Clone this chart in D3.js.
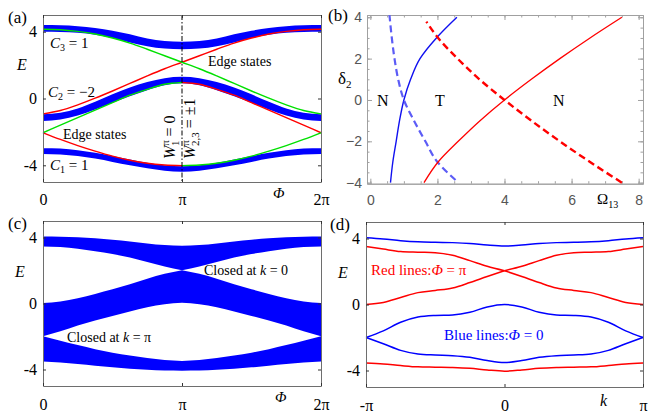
<!DOCTYPE html>
<html>
<head>
<meta charset="utf-8">
<script src="https://cdn.jsdelivr.net/npm/d3@7"></script>
<style>
  body { margin: 0; background: #fff; }
  svg text { font-family: "Liberation Serif", "Times New Roman", serif; }
  svg text.mma { font-family: "Liberation Sans", Arial, sans-serif; }
</style>
</head>
<body>
<svg id="fig" width="651" height="416"></svg>
<script>
/** Data (Phi and k in units of pi) **/
var phiAll   = [0, 0.125, 0.25, 0.375, 0.5, 0.625, 0.75, 0.875, 1, 1.125, 1.25, 1.375, 1.5, 1.625, 1.75, 1.875, 2];
var phiLeft  = [0, 0.125, 0.25, 0.375, 0.5, 0.625, 0.75, 0.875, 1];
var phiRight = [1, 1.125, 1.25, 1.375, 1.5, 1.625, 1.75, 1.875, 2];

// (a) bulk ribbons of the strip spectrum
var bandA3Lo = [4.0, 3.98, 3.93, 3.82, 3.62, 3.36, 3.13, 2.99, 2.95, 2.99, 3.13, 3.36, 3.62, 3.82, 3.93, 3.98, 4.0];
var bandA3Hi = [4.4, 4.38, 4.33, 4.22, 4.06, 3.84, 3.59, 3.44, 3.4, 3.44, 3.59, 3.84, 4.06, 4.22, 4.33, 4.38, 4.4];
var bandA2Lo = [-1.35, -1.26, -1.02, -0.66, -0.25, 0.14, 0.5, 0.8, 0.92, 0.8, 0.5, 0.14, -0.25, -0.66, -1.02, -1.26, -1.35];
var bandA2Hi = [-0.95, -0.86, -0.6, -0.2, 0.25, 0.66, 0.99, 1.22, 1.3, 1.22, 0.99, 0.66, 0.25, -0.2, -0.6, -0.86, -0.95];
var bandA1Lo = [-3.32, -3.35, -3.45, -3.6, -3.8, -4.0, -4.18, -4.32, -4.38, -4.32, -4.18, -4.0, -3.8, -3.6, -3.45, -3.35, -3.32];
var bandA1Hi = [-2.98, -3.0, -3.1, -3.25, -3.45, -3.65, -3.84, -3.99, -4.05, -3.99, -3.84, -3.65, -3.45, -3.25, -3.1, -3.0, -2.98];

// (a) edge states
var redA1   = [-2.05, -2.45, -2.82, -3.15, -3.45, -3.7, -3.88, -3.98, -4.02];
var redA2   = [-0.92, -0.72, -0.38, 0.02, 0.45, 0.9, 1.35, 1.78, 2.17, 2.56, 2.95, 3.32, 3.62, 3.86, 4.02, 4.12, 4.15];
var redA3   = [0.96, 0.85, 0.55, 0.2, -0.25, -0.7, -1.15, -1.6, -2.05];
var greenA1 = [4.15, 4.12, 4.02, 3.86, 3.62, 3.32, 2.95, 2.56, 2.17, 1.78, 1.35, 0.9, 0.45, 0.02, -0.38, -0.72, -0.92];
var greenA2 = [-2.05, -1.6, -1.15, -0.7, -0.25, 0.2, 0.55, 0.85, 0.96];
var greenA3 = [-4.02, -3.98, -3.88, -3.7, -3.45, -3.15, -2.82, -2.45, -2.05];

// (b) phase boundaries, delta_2 vs Omega_13
var blueSolidDe   = [-4, -3, -2, -1, 0, 1, 2, 3, 4];
var blueSolidOm   = [0.6, 0.67, 0.77, 0.87, 1.0, 1.2, 1.48, 1.97, 2.58];
var blueDashDe    = [-3.87, -3, -2, -1, 0, 1, 2, 3, 4.1];
var blueDashOm    = [2.54, 2.0, 1.64, 1.3, 1.0, 0.83, 0.72, 0.64, 0.57];
var redSolidDe    = [-4, -3, -2, -1, 0, 1, 2, 3, 4];
var redSolidOm    = [1.6, 2.02, 2.62, 3.27, 4.0, 4.8, 5.65, 6.55, 7.5];
var redDashDe     = [-4, -3, -2, -1, 0, 1, 2, 3, 3.79];
var redDashOm     = [7.5, 6.55, 5.65, 4.8, 4.0, 3.25, 2.6, 2.02, 1.67];

// (c) projected bulk bands (edges)
var bandC3Hi = [4.06, 4.05, 4.02, 3.96, 3.87, 3.76, 3.64, 3.54, 3.5, 3.54, 3.64, 3.76, 3.87, 3.96, 4.02, 4.05, 4.06];
var bandC3Lo = [3.46, 3.42, 3.32, 3.17, 3.0, 2.79, 2.52, 2.24, 2.02, 2.24, 2.52, 2.79, 3.0, 3.17, 3.32, 3.42, 3.46];
var bandC2Hi = [0.03, 0.12, 0.32, 0.58, 0.86, 1.17, 1.5, 1.8, 2.02, 1.8, 1.5, 1.17, 0.86, 0.58, 0.32, 0.12, 0.03];
var bandC2Lo = [-1.98, -1.68, -1.33, -1.03, -0.75, -0.48, -0.22, -0.04, 0.04, -0.04, -0.22, -0.48, -0.75, -1.03, -1.33, -1.68, -1.98];
var bandC1Hi = [-1.98, -2.25, -2.52, -2.77, -2.98, -3.15, -3.3, -3.42, -3.48, -3.42, -3.3, -3.15, -2.98, -2.77, -2.52, -2.25, -1.98];
var bandC1Lo = [-3.52, -3.58, -3.67, -3.77, -3.87, -3.95, -4.02, -4.06, -4.07, -4.06, -4.02, -3.95, -3.87, -3.77, -3.67, -3.58, -3.52];

// (d) bulk bands vs k
var kAll = [-1, -0.875, -0.75, -0.625, -0.5, -0.375, -0.25, -0.125, 0, 0.125, 0.25, 0.375, 0.5, 0.625, 0.75, 0.875, 1];
var blueTopD = [4.04, 3.97, 3.87, 3.8, 3.77, 3.75, 3.7, 3.6, 3.54, 3.6, 3.7, 3.75, 3.77, 3.8, 3.87, 3.97, 4.04];
var blueMidD = [-2.0, -1.6, -1.08, -0.76, -0.66, -0.63, -0.47, -0.15, 0.0, -0.15, -0.47, -0.63, -0.66, -0.76, -1.08, -1.6, -2.0];
var blueBotD = [-2.0, -2.38, -2.78, -3.0, -3.06, -3.1, -3.2, -3.4, -3.52, -3.4, -3.2, -3.1, -3.06, -3.0, -2.78, -2.38, -2.0];
var redTopD  = [3.52, 3.36, 3.21, 3.17, 3.14, 2.98, 2.66, 2.32, 2.05, 2.32, 2.66, 2.98, 3.14, 3.17, 3.21, 3.36, 3.52];
var redMidD  = [0.0, 0.12, 0.42, 0.72, 0.85, 1.0, 1.33, 1.7, 2.05, 1.7, 1.33, 1.0, 0.85, 0.72, 0.42, 0.12, 0.0];
var redBotD  = [-3.54, -3.6, -3.7, -3.78, -3.8, -3.82, -3.87, -3.97, -4.04, -3.97, -3.87, -3.82, -3.8, -3.78, -3.7, -3.6, -3.54];

var BLUE = "#0000ff", RED = "#ff0000", GREEN = "#00e000";
var svg = d3.select("#fig");

function zip(xs, ys) { return xs.map(function(x, i) { return [x, ys[i]]; }); }
function zip3(xs, lo, hi) { return xs.map(function(x, i) { return [x, lo[i], hi[i]]; }); }

/** MATLAB-like box with inward ticks */
function matlabAxes(x, y, xTicks, xLabels, yTicks, yLabels, labelY) {
    var g = svg.append("g");
    var r = x.range(), d = y.range();
    var fmtY = function(v) { return yLabels[yTicks.indexOf(v)]; };
    var left = d3.axisLeft(y).tickValues(yTicks).tickFormat(fmtY).tickSizeInner(-3).tickSizeOuter(0).tickPadding(6);
    var right = d3.axisRight(y).tickValues(yTicks).tickFormat("").tickSizeInner(-3).tickSizeOuter(0);
    var top = d3.axisTop(x).tickValues(xTicks).tickFormat("").tickSizeInner(-3).tickSizeOuter(0);
    var bottom = d3.axisBottom(x).tickValues(xTicks).tickFormat(function(v) { return xLabels[xTicks.indexOf(v)]; })
        .tickSizeInner(-3).tickSizeOuter(0).tickPadding(labelY);
    g.append("g").attr("transform", "translate(" + r[0] + ",0)").call(left);
    g.append("g").attr("transform", "translate(" + r[1] + ",0)").call(right);
    g.append("g").attr("transform", "translate(0," + d[1] + ")").call(top);
    g.append("g").attr("transform", "translate(0," + d[0] + ")").call(bottom);
    g.selectAll("path.domain").attr("stroke", "#6e6e6e").attr("stroke-width", 1);
    g.selectAll(".tick line").attr("stroke", "#333");
    g.selectAll("text").attr("font-family", "Liberation Serif").attr("font-size", 16).attr("fill", "#000");
    return g;
}

function addText(x, y, parts, opts) {
    opts = opts || {};
    var t = svg.append("text").attr("x", x).attr("y", y)
        .attr("font-size", opts.size || 14).attr("fill", opts.fill || "#000");
    if (opts.rotate) t.attr("transform", "rotate(" + opts.rotate + "," + x + "," + y + ")");
    parts.forEach(function(p) {
        var s = t.append("tspan").text(p.t);
        if (p.i) s.attr("font-style", "italic");
        if (p.s) s.attr("font-size", p.s);
        if (p.dx) s.attr("dx", p.dx);
        if (p.dy) s.attr("dy", p.dy);
    });
    return t;
}

/* ---------------- (a) ---------------- */
var xA = d3.scaleLinear().domain([0, 2]).range([43, 321]);
var yA = d3.scaleLinear().domain([-5, 5]).range([182, 15]);
var areaA = d3.area().x(function(d) { return xA(d[0]); })
    .y0(function(d) { return yA(d[1]); }).y1(function(d) { return yA(d[2]); })
    .curve(d3.curveMonotoneX);
var lineA = d3.line().x(function(d) { return xA(d[0]); }).y(function(d) { return yA(d[1]); })
    .curve(d3.curveMonotoneX);

[[bandA3Lo, bandA3Hi], [bandA2Lo, bandA2Hi], [bandA1Lo, bandA1Hi]].forEach(function(b) {
    svg.append("path").attr("d", areaA(zip3(phiAll, b[0], b[1]))).attr("fill", BLUE);
});
[[phiLeft, redA1, RED], [phiAll, redA2, RED], [phiRight, redA3, RED],
 [phiAll, greenA1, GREEN], [phiLeft, greenA2, GREEN], [phiRight, greenA3, GREEN]].forEach(function(l) {
    svg.append("path").attr("d", lineA(zip(l[0], l[1])))
        .attr("fill", "none").attr("stroke", l[2]).attr("stroke-width", 1.4);
});
svg.append("line").attr("x1", xA(1)).attr("x2", xA(1)).attr("y1", yA(5)).attr("y2", yA(-5))
    .attr("stroke", "#000").attr("stroke-width", 1).attr("stroke-dasharray", "5,2,1.5,2");

matlabAxes(xA, yA, [0, 1, 2], ["0", "π", "2π"], [4, 0, -4], ["4", "0", "-4"], 12);

addText(8, 23, [{t: "(a)"}], {size: 17});
addText(17, 70, [{t: "E", i: true}], {size: 16});
addText(273, 198, [{t: "Φ", i: true}], {size: 15});
addText(50, 48, [{t: "C", i: true}, {t: "3", s: 10, dy: 3}, {t: " = 1", dy: -3}], {size: 15});
addText(48, 97, [{t: "C", i: true}, {t: "2", s: 10, dy: 3}, {t: " = −2", dy: -3}], {size: 15});
addText(50, 170, [{t: "C", i: true}, {t: "1", s: 10, dy: 3}, {t: " = 1", dy: -3}], {size: 15});
addText(208, 66, [{t: "Edge states"}], {size: 14});
addText(63, 139, [{t: "Edge states"}], {size: 14});
addText(175, 159, [{t: "W", i: true}, {t: "π", s: 11, dy: -6}, {t: "1", s: 11, dx: -6, dy: 10}, {t: " = 0", dy: -4}],
    {size: 16, rotate: -90});
addText(195, 159, [{t: "W", i: true}, {t: "π", s: 11, dy: -6}, {t: "2,3", s: 11, dx: -6, dy: 10}, {t: " = ±1", dy: -4}],
    {size: 16, rotate: -90});

/* ---------------- (b) ---------------- */
var xB = d3.scaleLinear().domain([-0.1, 8.13]).range([367, 643]);
var yB = d3.scaleLinear().domain([-4.05, 4.11]).range([183.7, 15]);
var lineB = d3.line().x(function(d) { return xB(d[0]); }).y(function(d) { return yB(d[1]); })
    .curve(d3.curveMonotoneY);

var gB = svg.append("g");
var fmtB = function(v) { return v < 0 ? "−" + Math.abs(v) : String(v); };
gB.append("g").attr("transform", "translate(367,0)")
    .call(d3.axisLeft(yB).tickValues([-4, -2, 0, 2, 4]).tickFormat(fmtB).tickSizeInner(-5).tickSizeOuter(0).tickPadding(5));
gB.append("g").attr("transform", "translate(367,0)")
    .call(d3.axisLeft(yB).tickValues(d3.range(-4, 4.01, 0.5)).tickFormat("").tickSizeInner(-2.5).tickSizeOuter(0));
gB.append("g").attr("transform", "translate(643,0)")
    .call(d3.axisRight(yB).tickValues([-4, -2, 0, 2, 4]).tickFormat("").tickSizeInner(-5).tickSizeOuter(0));
gB.append("g").attr("transform", "translate(643,0)")
    .call(d3.axisRight(yB).tickValues(d3.range(-4, 4.01, 0.5)).tickFormat("").tickSizeInner(-2.5).tickSizeOuter(0));
gB.append("g").attr("transform", "translate(0,183.7)")
    .call(d3.axisBottom(xB).tickValues([0, 2, 4, 6, 8]).tickFormat(fmtB).tickSizeInner(-5).tickSizeOuter(0).tickPadding(11));
gB.append("g").attr("transform", "translate(0,183.7)")
    .call(d3.axisBottom(xB).tickValues(d3.range(0, 8.01, 0.5)).tickFormat("").tickSizeInner(-2.5).tickSizeOuter(0));
gB.append("g").attr("transform", "translate(0,15)")
    .call(d3.axisTop(xB).tickValues([0, 2, 4, 6, 8]).tickFormat("").tickSizeInner(-5).tickSizeOuter(0));
gB.append("g").attr("transform", "translate(0,15)")
    .call(d3.axisTop(xB).tickValues(d3.range(0, 8.01, 0.5)).tickFormat("").tickSizeInner(-2.5).tickSizeOuter(0));
gB.selectAll("path.domain").attr("stroke", "#a0a0a0");
gB.selectAll(".tick line").attr("stroke", "#a0a0a0");
gB.selectAll("text").attr("class", "mma").attr("font-size", 14).attr("fill", "#555");

svg.append("path").attr("d", lineB(zip(blueSolidOm, blueSolidDe))).attr("fill", "none")
    .attr("stroke", "#1010f0").attr("stroke-width", 1.4);
svg.append("path").attr("d", lineB(zip(blueDashOm, blueDashDe))).attr("fill", "none")
    .attr("stroke", "#5c5cf6").attr("stroke-width", 2.2).attr("stroke-dasharray", "7,4");
svg.append("path").attr("d", lineB(zip(redSolidOm, redSolidDe))).attr("fill", "none")
    .attr("stroke", RED).attr("stroke-width", 1.3);
svg.append("path").attr("d", lineB(zip(redDashOm, redDashDe))).attr("fill", "none")
    .attr("stroke", RED).attr("stroke-width", 2.4).attr("stroke-dasharray", "7,4");

addText(328, 21, [{t: "(b)"}], {size: 17});
addText(338, 84, [{t: "δ"}, {t: "2", s: 11, dy: 4}], {size: 17});
addText(377, 106, [{t: "N"}], {size: 16});
addText(435, 106, [{t: "T"}], {size: 16});
addText(553, 106, [{t: "N"}], {size: 16});
addText(597, 204, [{t: "Ω"}, {t: "13", s: 10, dy: 4}], {size: 15});

/* ---------------- (c) ---------------- */
var xC = d3.scaleLinear().domain([0, 2]).range([43, 321]);
var yC = d3.scaleLinear().domain([-5, 5]).range([386, 221]);
var areaC = d3.area().x(function(d) { return xC(d[0]); })
    .y0(function(d) { return yC(d[1]); }).y1(function(d) { return yC(d[2]); })
    .curve(d3.curveMonotoneX);

[[bandC3Lo, bandC3Hi], [bandC2Lo, bandC2Hi], [bandC1Lo, bandC1Hi]].forEach(function(b) {
    // split at Phi = pi so the gap closings keep their sharp corners
    svg.append("path").attr("d", areaC(zip3(phiLeft, b[0].slice(0, 9), b[1].slice(0, 9)))).attr("fill", BLUE);
    svg.append("path").attr("d", areaC(zip3(phiRight, b[0].slice(8), b[1].slice(8)))).attr("fill", BLUE);
});

matlabAxes(xC, yC, [0, 1, 2], ["0", "π", "2π"], [4, 0, -4], ["4", "0", "-4"], 13);
addText(8, 229, [{t: "(c)"}], {size: 17});
addText(15, 277, [{t: "E", i: true}], {size: 16});
addText(275, 402, [{t: "Φ", i: true}], {size: 15});
addText(204, 275, [{t: "Closed at  "}, {t: "k", i: true}, {t: " = 0"}], {size: 14});
addText(67, 342, [{t: "Closed at  "}, {t: "k", i: true}, {t: " = π"}], {size: 14});

/* ---------------- (d) ---------------- */
var xD = d3.scaleLinear().domain([-1, 1]).range([366, 643]);
var yD = d3.scaleLinear().domain([-5, 5]).range([387, 222]);
var lineD = d3.line().x(function(d) { return xD(d[0]); }).y(function(d) { return yD(d[1]); })
    .curve(d3.curveMonotoneX);

[[blueTopD, BLUE], [blueMidD, BLUE], [blueBotD, BLUE], [redBotD, RED]].forEach(function(l) {
    svg.append("path").attr("d", lineD(zip(kAll, l[0]))).attr("fill", "none")
        .attr("stroke", l[1]).attr("stroke-width", 1.5);
});
// the two upper red bands cross at k = 0: draw each half on its own
[redTopD, redMidD].forEach(function(arr) {
    svg.append("path").attr("d", lineD(zip(kAll.slice(0, 9), arr.slice(0, 9)))).attr("fill", "none")
        .attr("stroke", RED).attr("stroke-width", 1.5);
    svg.append("path").attr("d", lineD(zip(kAll.slice(8), arr.slice(8)))).attr("fill", "none")
        .attr("stroke", RED).attr("stroke-width", 1.5);
});

matlabAxes(xD, yD, [-1, 0, 1], ["-π", "0", "π"], [4, 0, -4], ["4", "0", "-4"], 13);
addText(330, 230, [{t: "(d)"}], {size: 17});
addText(338, 278, [{t: "E", i: true}], {size: 16});
addText(600, 406, [{t: "k", i: true}], {size: 16});
addText(371, 275, [{t: "Red lines:"}, {t: "Φ", i: true}, {t: " = π"}], {size: 15, fill: RED});
addText(444, 340, [{t: "Blue lines:"}, {t: "Φ", i: true}, {t: " = 0"}], {size: 15, fill: BLUE});
</script>
</body>
</html>
